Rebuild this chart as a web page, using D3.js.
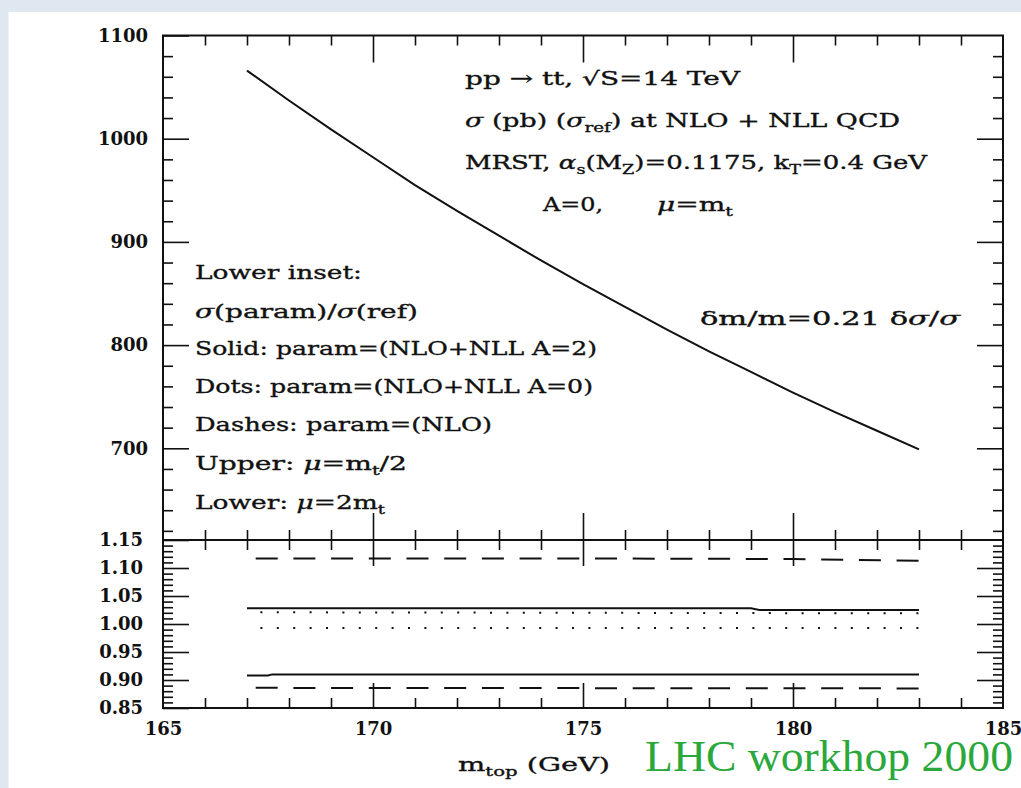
<!DOCTYPE html>
<html>
<head>
<meta charset="utf-8">
<script src="https://cdn.jsdelivr.net/npm/d3@7"></script>
<style>
  body { margin: 0; background: #dfe7f1; }
  svg { display: block; }
  text { font-family: "DejaVu Serif", serif; fill: #111; }
  .label { stroke: #111; stroke-width: 0.35px; }
  .tick text { font-weight: bold; font-size: 18px; }
</style>
</head>
<body>
<svg width="1021" height="788"></svg>
<script>
// --- data ---
// upper panel: sigma_ref (pb) vs m_top (GeV)
const mTop = [167, 168, 169, 170, 171, 172, 173, 174, 175, 176, 177, 178, 179, 180, 181, 182, 183];
const sigmaRef = [1066, 1037, 1009, 982, 955, 930, 906, 882, 859, 837, 815, 794, 774, 754, 735, 717, 699];

// lower inset: sigma(param)/sigma(ref)
const solidUpperX = [167, 179.0, 179.2, 183];
const solidUpperY = [1.028, 1.028, 1.025, 1.025];
const solidLowerX = [167, 167.5, 167.6, 183];
const solidLowerY = [0.908, 0.908, 0.910, 0.910];
const dotsUpperX = [167, 183];
const dotsUpperY = [1.021, 1.019];
const dotsLowerX = [167, 183];
const dotsLowerY = [0.993, 0.993];
const dashUpperX = [167, 175, 180, 183];
const dashUpperY = [1.117, 1.117, 1.116, 1.113];
const dashLowerX = [167, 183];
const dashLowerY = [0.886, 0.885];

// tick labels
const xTickLabels = [165, 170, 175, 180, 185];
const upperYTicks = [700, 800, 900, 1000, 1100];
const lowerYTicks = [0.85, 0.90, 0.95, 1.00, 1.05, 1.10, 1.15];

// --- layout ---
const svg = d3.select('svg');
const pLeft = 163, pRight = 1003, pTop = 35.5, pMid = 540, pBottom = 708;

svg.append('rect')
  .attr('x', 8.5).attr('y', 12)
  .attr('width', 1021 - 8.5).attr('height', 788 - 12)
  .attr('fill', '#fff');

const x = d3.scaleLinear().domain([165, 185]).range([pLeft, pRight]);
const yTop = d3.scaleLinear().domain([700, 1100]).range([448.3, pTop]);
const yLow = d3.scaleLinear().domain([0.85, 1.15]).range([pBottom, pMid]);

const xMinor = d3.range(166, 185, 1).filter(v => v % 5 !== 0);
const xMajor = [170, 175, 180];
const upperMinor = d3.range(620, 1100, 20).filter(v => v % 100 !== 0);
const lowerMinor = d3.range(86, 115, 1).filter(v => v % 5 !== 0).map(v => v / 100);

function clean(g) {
  g.select('.domain').remove();
  g.selectAll('.tick line').attr('stroke', '#111').attr('stroke-width', 1.6);
}

function tickAxis(axisFn, scale, vals, size, tx, ty, labels, pad, fmt) {
  const ax = axisFn(scale).tickValues(vals).tickSize(size)
    .tickPadding(pad || 3)
    .tickFormat(labels ? (fmt || (d => d)) : '');
  svg.append('g').attr('transform', `translate(${tx},${ty})`).call(ax).call(clean);
}

// upper panel y axes
tickAxis(d3.axisLeft, yTop, upperYTicks, -26, pLeft, 0, true, 15);
tickAxis(d3.axisLeft, yTop, upperMinor, -10, pLeft, 0, false);
tickAxis(d3.axisRight, yTop, upperYTicks.filter(v => v < 1100), -26, pRight, 0, false);
tickAxis(d3.axisRight, yTop, upperMinor, -10, pRight, 0, false);

// lower panel y axes
tickAxis(d3.axisLeft, yLow, lowerYTicks, -26, pLeft, 0, true, 20, d3.format('.2f'));
tickAxis(d3.axisLeft, yLow, lowerMinor, -10, pLeft, 0, false);
tickAxis(d3.axisRight, yLow, lowerYTicks.slice(1, -1), -26, pRight, 0, false);
tickAxis(d3.axisRight, yLow, lowerMinor, -10, pRight, 0, false);

// x axes: top of upper, shared middle line, bottom of lower
tickAxis(d3.axisTop, x, xMajor, -27, 0, pTop, false);
tickAxis(d3.axisTop, x, xMinor, -10, 0, pTop, false);
tickAxis(d3.axisBottom, x, xMajor, -27, 0, pMid, false);
tickAxis(d3.axisBottom, x, xMinor, -10, 0, pMid, false);
tickAxis(d3.axisTop, x, xMajor, -26, 0, pMid, false);
tickAxis(d3.axisTop, x, xMinor, -10, 0, pMid, false);
tickAxis(d3.axisBottom, x, xMajor, -25, 0, pBottom, false);
tickAxis(d3.axisBottom, x, xMinor, -10, 0, pBottom, false);
tickAxis(d3.axisBottom, x, xTickLabels, 0, 0, pBottom, true, 14);

// frames
svg.append('rect').attr('x', pLeft).attr('y', pTop)
  .attr('width', pRight - pLeft).attr('height', pMid - pTop)
  .attr('fill', 'none').attr('stroke', '#111').attr('stroke-width', 2);
svg.append('rect').attr('x', pLeft).attr('y', pMid)
  .attr('width', pRight - pLeft).attr('height', pBottom - pMid)
  .attr('fill', 'none').attr('stroke', '#111').attr('stroke-width', 2);

// upper curve
const lineTop = d3.line().x((d, i) => x(mTop[i])).y(d => yTop(d));
svg.append('path').attr('d', lineTop(sigmaRef))
  .attr('fill', 'none').attr('stroke', '#111').attr('stroke-width', 2);

// lower inset lines
function ratioLine(xs, ys, dash, offset) {
  const line = d3.line().x((d, i) => x(xs[i])).y(d => yLow(d));
  const p = svg.append('path').attr('d', line(ys))
    .attr('fill', 'none').attr('stroke', '#111').attr('stroke-width', 2);
  if (dash) p.attr('stroke-dasharray', dash).attr('stroke-dashoffset', offset || 0);
}
ratioLine(dashUpperX, dashUpperY, '22 15.7', 29);
ratioLine(dashLowerX, dashLowerY, '22 15.7', 29);
ratioLine(dotsUpperX, dotsUpperY, '2 14.4', 3);
ratioLine(dotsLowerX, dotsLowerY, '2 14.4', 3);
ratioLine(solidUpperX, solidUpperY);
ratioLine(solidLowerX, solidLowerY);

// --- text ---
function richText(px, py, parts, len, size) {
  const t = svg.append('text').attr('class', 'label').attr('x', px).attr('y', py)
    .attr('font-size', size || 19).style('white-space', 'pre');
  let shift = 0;
  parts.forEach(p => {
    const s = typeof p === 'string' ? p : p[0];
    const kind = typeof p === 'string' ? '' : p[1];
    const want = kind === 'sub' ? 5 : 0;
    const ts = t.append('tspan').attr('dy', want - shift).text(s);
    shift = want;
    if (kind === 'sub') ts.attr('font-size', '68%');
    if (kind === 'it') ts.attr('font-style', 'italic');
  });
  if (len) t.attr('textLength', len).attr('lengthAdjust', 'spacingAndGlyphs');
  return t;
}

richText(465, 85, ['pp \u2192 tt, \u221AS=14 TeV'], 275);
richText(465, 127, [['\u03C3', 'it'], ' (pb) (', ['\u03C3', 'it'], ['ref', 'sub'], ') at NLO + NLL QCD'], 435);
richText(465, 169, ['MRST, ', ['\u03B1', 'it'], ['s', 'sub'], '(M', ['Z', 'sub'], ')=0.1175, k', ['T', 'sub'], '=0.4 GeV'], 462);
richText(543, 211, ['A=0,'], 60);
richText(657, 211, [['\u03BC', 'it'], '=m', ['t', 'sub']], 76);

richText(195, 279, ['Lower inset:'], 167);
richText(195, 318, [['\u03C3', 'it'], '(param)/', ['\u03C3', 'it'], '(ref)'], 223);
richText(195, 355, ['Solid: param=(NLO+NLL A=2)'], 402);
richText(195, 393, ['Dots: param=(NLO+NLL A=0)'], 398);
richText(195, 431, ['Dashes: param=(NLO)'], 297);
richText(195, 470, ['Upper: ', ['\u03BC', 'it'], '=m', ['t', 'sub'], '/2'], 212);
richText(195, 509, ['Lower: ', ['\u03BC', 'it'], '=2m', ['t', 'sub']], 190);

richText(700, 325, ['\u03B4m/m=0.21 \u03B4', ['\u03C3', 'it'], '/', ['\u03C3', 'it']], 260);

richText(458, 771, ['m', ['top', 'sub'], ' (GeV)'], 152);

svg.append('text').attr('x', 645).attr('y', 771)
  .style('font-family', '"Liberation Serif", serif')
  .attr('font-size', 44).style('fill', '#2aa83c')
  .attr('textLength', 368).attr('lengthAdjust', 'spacingAndGlyphs')
  .text('LHC workhop 2000');
</script>
</body>
</html>
